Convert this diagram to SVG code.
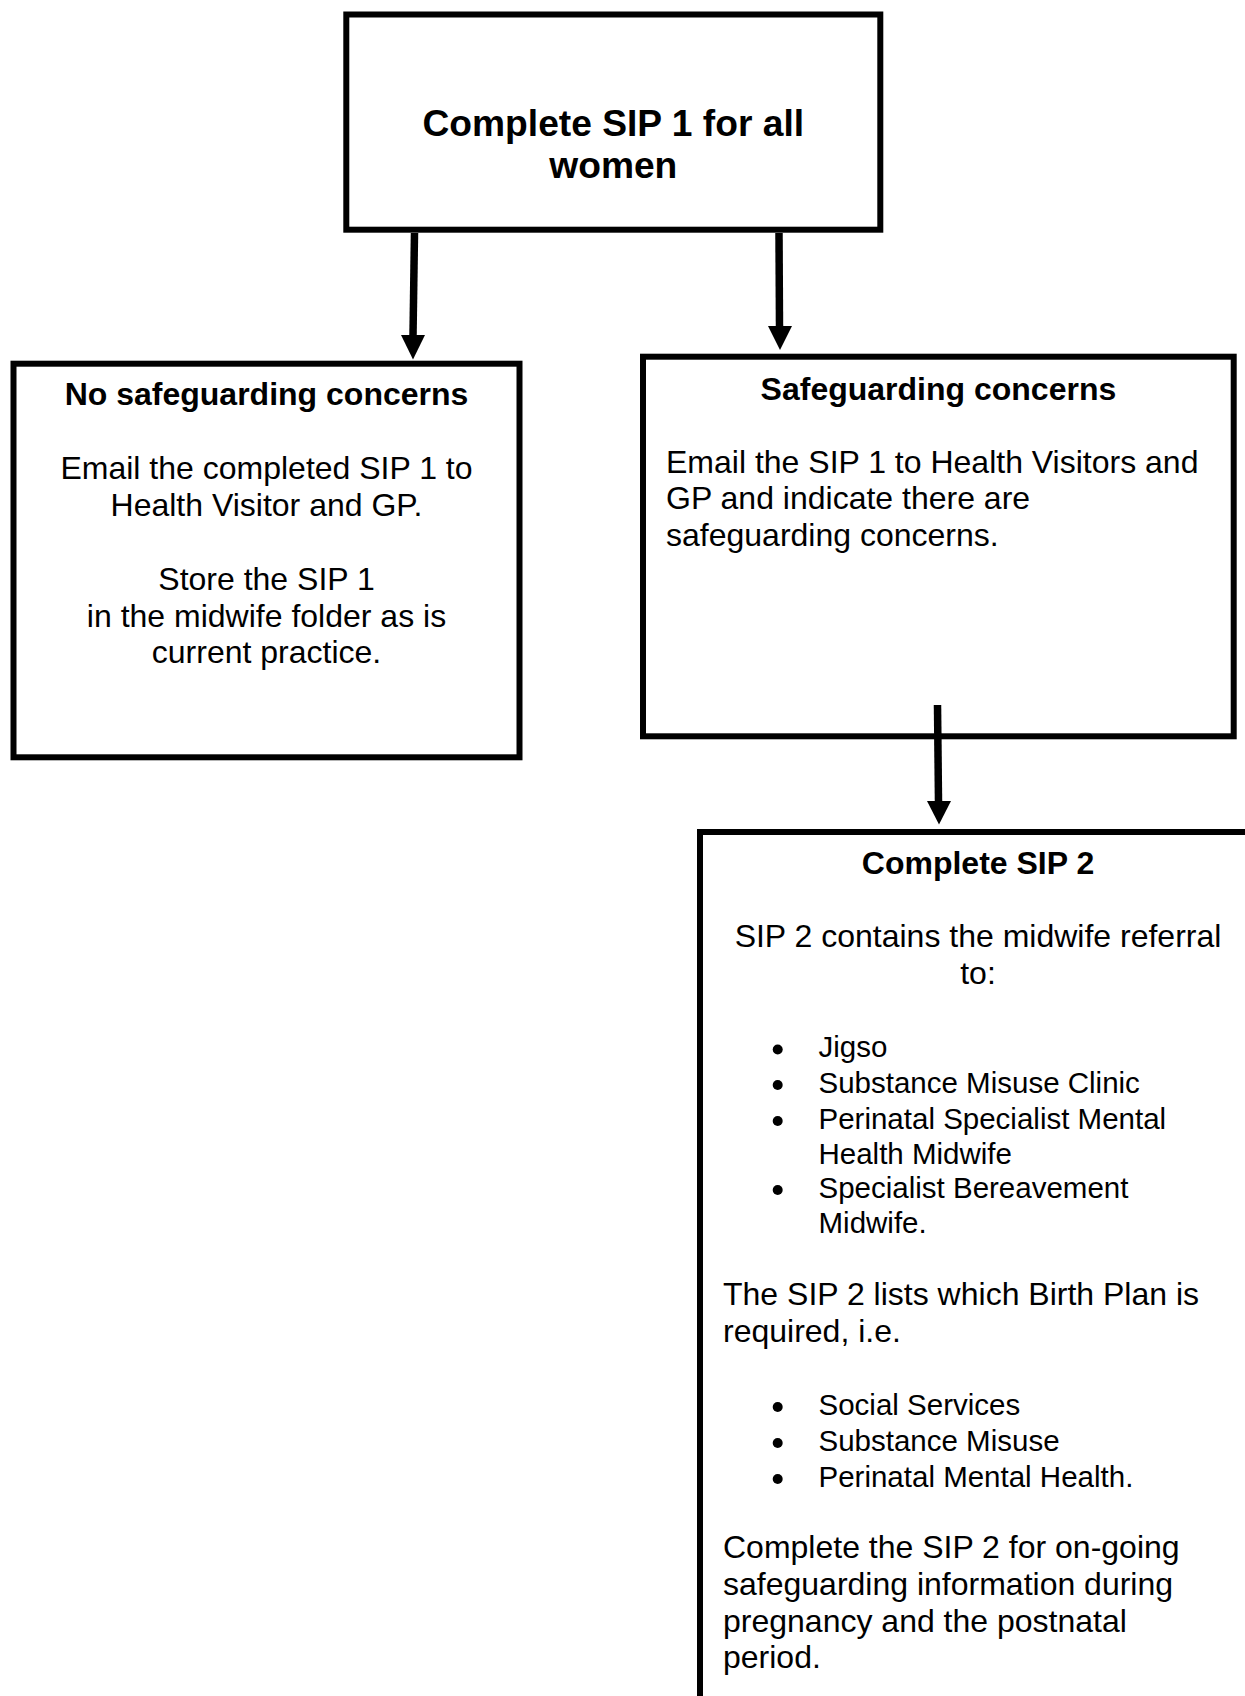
<svg xmlns="http://www.w3.org/2000/svg" width="1245" height="1696" viewBox="0 0 1245 1696">
<style>
.box{fill:none;stroke:#000;stroke-width:6}
.t{font-family:"Liberation Sans",Arial,sans-serif;font-size:32px;fill:#000}
.c{text-anchor:middle}
.b{font-weight:bold}
.title{font-size:37.2px}
.li{font-size:29.5px}
.shaft{stroke:#000;stroke-width:7.5;fill:none}
.head{fill:#000}
.dot{fill:#000}
</style>
<rect width="1245" height="1696" fill="#fff"/>
<g id="connectors">
<line class="shaft" x1="414.5" y1="233" x2="413" y2="336"/>
<polygon class="head" points="401,335 425,335 413,359.5"/>
<line class="shaft" x1="779" y1="233" x2="779.5" y2="327"/>
<polygon class="head" points="768,326 792,326 780,350"/>
<line class="shaft" x1="937.5" y1="705" x2="938.5" y2="802"/>
<polygon class="head" points="927,801 951,801 939,824.5"/>
</g>
<g id="node-sip1">
<rect class="box" x="346.3" y="14.5" width="534" height="215.2"/>
<text class="t c b title" x="613.3" y="135.5">Complete SIP 1 for all</text>
<text class="t c b title" x="613.3" y="178">women</text>
</g>
<g id="node-no-concerns">
<rect class="box" x="13.5" y="363.7" width="506" height="393.6"/>
<text class="t c b" x="266.5" y="405">No safeguarding concerns</text>
<text class="t c" x="266.5" y="479.3">Email the completed SIP 1 to</text>
<text class="t c" x="266.5" y="516">Health Visitor and GP.</text>
<text class="t c" x="266.5" y="590">Store the SIP 1</text>
<text class="t c" x="266.5" y="626.7">in the midwife folder as is</text>
<text class="t c" x="266.5" y="663.3">current practice.</text>
</g>
<g id="node-concerns">
<rect class="box" x="643" y="356.7" width="590.7" height="379.6"/>
<text class="t c b" x="938.4" y="400">Safeguarding concerns</text>
<text class="t" x="666" y="472.5">Email the SIP 1 to Health Visitors and</text>
<text class="t" x="666" y="509.3">GP and indicate there are</text>
<text class="t" x="666" y="546">safeguarding concerns.</text>
</g>
<g id="node-sip2">
<rect class="box" x="700" y="832" width="560" height="1000"/>
<text class="t c b" x="978" y="874">Complete SIP 2</text>
<text class="t c" x="978" y="947">SIP 2 contains the midwife referral</text>
<text class="t c" x="978" y="984">to:</text>
<circle class="dot" cx="777.7" cy="1049.5" r="5"/>
<text class="t li" x="818.5" y="1057">Jigso</text>
<circle class="dot" cx="777.7" cy="1085" r="5"/>
<text class="t li" x="818.5" y="1093">Substance Misuse Clinic</text>
<circle class="dot" cx="777.7" cy="1121" r="5"/>
<text class="t li" x="818.5" y="1129">Perinatal Specialist Mental</text>
<text class="t li" x="818.5" y="1163.5">Health Midwife</text>
<circle class="dot" cx="777.7" cy="1190" r="5"/>
<text class="t li" x="818.5" y="1198">Specialist Bereavement</text>
<text class="t li" x="818.5" y="1232.5">Midwife.</text>
<text class="t" x="723" y="1305">The SIP 2 lists which Birth Plan is</text>
<text class="t" x="723" y="1341.7">required, i.e.</text>
<circle class="dot" cx="777.7" cy="1407" r="5"/>
<text class="t li" x="818.5" y="1415">Social Services</text>
<circle class="dot" cx="777.7" cy="1443" r="5"/>
<text class="t li" x="818.5" y="1451">Substance Misuse</text>
<circle class="dot" cx="777.7" cy="1479" r="5"/>
<text class="t li" x="818.5" y="1487">Perinatal Mental Health.</text>
<text class="t" x="723" y="1558">Complete the SIP 2 for on-going</text>
<text class="t" x="723" y="1595">safeguarding information during</text>
<text class="t" x="723" y="1631.7">pregnancy and the postnatal</text>
<text class="t" x="723" y="1668">period.</text>
</g>
</svg>
